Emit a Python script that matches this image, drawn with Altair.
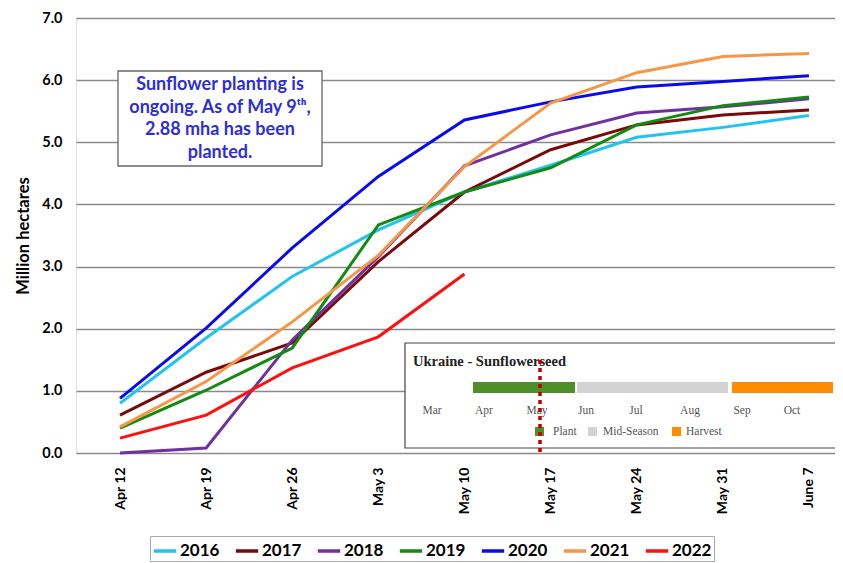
import altair as alt
import pandas as pd

weeks = ["Apr 12", "Apr 19", "Apr 26", "May 3", "May 10", "May 17", "May 24", "May 31", "June 7"]
years = ["2016", "2017", "2018", "2019", "2020", "2021", "2022"]
colors = ["#22C4EE", "#7A0A0A", "#7030A0", "#138A13", "#0A0AEE", "#F79646", "#FF1010"]

v2016 = [0.80, 1.85, 2.84, 3.59, 4.20, 4.63, 5.08, 5.24, 5.43]
v2017 = [0.61, 1.30, 1.77, 3.08, 4.20, 4.88, 5.28, 5.44, 5.52]
v2018 = [0.00, 0.08, 1.82, 3.16, 4.62, 5.12, 5.47, 5.57, 5.70]
v2019 = [0.40, 1.01, 1.69, 3.67, 4.20, 4.59, 5.28, 5.59, 5.73]
v2020 = [0.88, 2.01, 3.30, 4.45, 5.36, 5.65, 5.89, 5.98, 6.07]
v2021 = [0.42, 1.15, 2.11, 3.18, 4.61, 5.63, 6.12, 6.38, 6.43]
v2022 = [0.24, 0.61, 1.37, 1.87, 2.88]

series = [v2016, v2017, v2018, v2019, v2020, v2021, v2022]
rows = []
for yr, vals in zip(years, series):
    for i, v in enumerate(vals):
        rows.append({"idx": i, "week": weeks[i], "year": yr, "value": v})
df = pd.DataFrame(rows)

label_expr = "[" + ",".join("'" + w + "'" for w in weeks) + "][datum.value]"

FONT = "Lato"
SERIF = "Liberation Serif"

lines = alt.Chart(df).mark_line(strokeWidth=3).encode(
    x=alt.X("idx:Q",
            scale=alt.Scale(domain=[-0.511, 8.302], nice=False, zero=False),
            axis=alt.Axis(values=list(range(len(weeks))), labelExpr=label_expr,
                          labelAngle=-90, labelFontSize=14, labelFont=FONT,
                          labelFontWeight="bold", labelColor="#000", ticks=False,
                          labelPadding=14, grid=False, domain=False, title=None)),
    y=alt.Y("value:Q",
            scale=alt.Scale(domain=[0, 7], nice=False),
            axis=alt.Axis(values=[0, 1, 2, 3, 4, 5, 6, 7], format=".1f",
                          labelFontSize=14.5, labelFont=FONT, labelFontWeight="bold",
                          labelColor="#000", ticks=False, labelPadding=14,
                          grid=True, gridColor="#8a8a8a", gridWidth=1.3,
                          domain=False, title="Million hectares", titleFont=FONT,
                          titleFontSize=16.5, titleFontWeight="bold", titleColor="#000",
                          titlePadding=10)),
    color=alt.Color("year:N",
                    scale=alt.Scale(domain=years, range=colors),
                    legend=alt.Legend(title=None, orient="none", legendX=74, legendY=518,
                                      direction="horizontal", columns=7,
                                      symbolType="stroke", symbolStrokeWidth=3.5,
                                      symbolSize=500, labelFontSize=17, labelFont=FONT,
                                      labelFontWeight="bold", labelColor="#000",
                                      strokeColor="#aaaaaa", padding=2,
                                      columnPadding=8, labelOffset=2)),
    detail="year:N",
)

one = alt.Data(values=[{}])


def txt(s, x, y, **kw):
    return alt.Chart(one).mark_text(text=s, **kw).encode(x=alt.value(x), y=alt.value(y))


def rect(x, x2, y, y2, **kw):
    return alt.Chart(one).mark_rect(**kw).encode(
        x=alt.value(x), x2=alt.value(x2), y=alt.value(y), y2=alt.value(y2))


# Annotation box
note_lines = ["Sunflower planting is", "ongoing. As of May 9ᵗʰ,", "2.88 mha has been", "planted."]
note = [rect(42, 246, 53, 148, fill="white", stroke="#666666", strokeWidth=1.3)]
for k, s in enumerate(note_lines):
    note.append(txt(s, 144, 67 + k * 22.5, font=FONT, fontSize=18, fontWeight="bold",
                    color="#2E2ED6", align="center", baseline="middle"))

# Inset crop calendar
months = ["Mar", "Apr", "May", "Jun", "Jul", "Aug", "Sep", "Oct"]
month_x = [356, 408, 461, 510, 560, 614, 666, 716]
stages = ["Plant", "Mid-Season", "Harvest"]
stage_colors = ["#4E8F2A", "#D3D3D3", "#FF8C00"]

inset = [rect(329, 765, 325, 430, fill="white", stroke="#444444", strokeWidth=1.2),
         txt("Ukraine - Sunflowerseed", 337, 344, font=SERIF, fontSize=14.5, fontWeight="bold",
             color="#222", align="left", baseline="middle"),
         rect(397, 499, 364, 375, fill=stage_colors[0]),
         rect(501, 652, 364, 375, fill=stage_colors[1]),
         rect(656, 757, 364, 375, fill=stage_colors[2])]
for m, mx in zip(months, month_x):
    inset.append(txt(m, mx, 393, font=SERIF, fontSize=11.5, color="#555",
                     align="center", baseline="middle"))
for s, c, sx, tx in zip(stages, stage_colors, [464, 517, 601], [477, 527, 610]):
    inset.append(rect(sx - 5, sx + 4, 409, 418, fill=c))
    inset.append(txt(s, tx, 414, font=SERIF, fontSize=11.5, color="#555",
                     align="left", baseline="middle"))
inset.append(alt.Chart(one).mark_rule(color="#C00000", strokeWidth=3.5, strokeDash=[4, 4]).encode(
    x=alt.value(464), y=alt.value(342), y2=alt.value(435)))

chart = alt.layer(lines, *note, *inset).properties(
    width=759, height=435,
    autosize=alt.AutoSizeParams(type="none"),
    padding={"left": 68, "top": 10, "right": 0, "bottom": 112},
).configure_view(stroke="#8a8a8a", strokeWidth=1.3).configure(background="white")

chart.save("out.html", embed_options={"renderer": "svg", "actions": False})
